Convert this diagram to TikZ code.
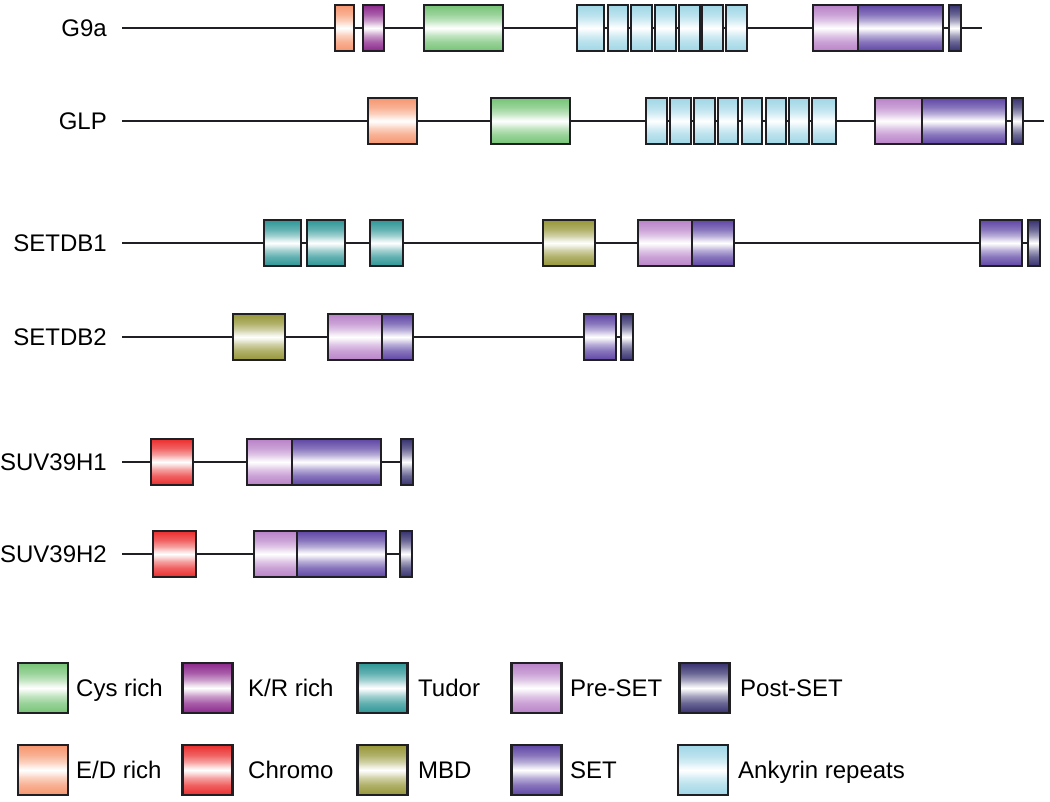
\documentclass[tikz,border=0pt]{standalone}
\usepackage{fontspec}
\setmainfont{Liberation Sans}
\definecolor{bord}{RGB}{32,32,36}
\definecolor{cCys}{RGB}{118,196,118}
\definecolor{cED}{RGB}{246,150,110}
\definecolor{cKR}{RGB}{140,40,140}
\definecolor{cTud}{RGB}{45,150,150}
\definecolor{cChr}{RGB}{235,45,45}
\definecolor{cMBD}{RGB}{150,150,55}
\definecolor{cPre}{RGB}{185,130,200}
\definecolor{cSET}{RGB}{95,70,165}
\definecolor{cPost}{RGB}{55,50,112}
\definecolor{cAnk}{RGB}{160,215,230}
\newcommand\mkshade[2]{\pgfdeclareverticalshading{#1}{100bp}{color(0bp)=(#2); color(25bp)=(#2); color(35bp)=(#2!75!white); color(42bp)=(#2!45!white); color(47bp)=(#2!15!white); color(50bp)=(white); color(53bp)=(#2!15!white); color(58bp)=(#2!45!white); color(65bp)=(#2!75!white); color(75bp)=(#2); color(100bp)=(#2)}}
\mkshade{shCys}{cCys}
\mkshade{shED}{cED}
\mkshade{shKR}{cKR}
\mkshade{shTud}{cTud}
\mkshade{shChr}{cChr}
\mkshade{shMBD}{cMBD}
\mkshade{shPre}{cPre}
\mkshade{shSET}{cSET}
\mkshade{shPost}{cPost}
\mkshade{shAnk}{cAnk}
\tikzset{
  dom/.style={draw=bord, line width=2.2pt, inner sep=0pt, outer sep=0pt, minimum height=46pt},
  dCys/.style={dom, shading=shCys, shade},
  dED/.style={dom, shading=shED, shade},
  dKR/.style={dom, shading=shKR, shade},
  dTud/.style={dom, shading=shTud, shade},
  dChr/.style={dom, shading=shChr, shade},
  dMBD/.style={dom, shading=shMBD, shade},
  dPre/.style={dom, shading=shPre, shade},
  dSET/.style={dom, shading=shSET, shade},
  dPost/.style={dom, shading=shPost, shade},
  dAnk/.style={dom, shading=shAnk, shade},
  bb/.style={draw=bord, line width=1.8pt},
  lbl/.style={anchor=east, inner sep=0pt, font=\fontsize{24}{28}\selectfont, text height=17pt, text depth=0pt},
  lgbox/.style={minimum width=50pt, minimum height=50pt},
  lgtxt/.style={anchor=west, inner sep=0pt, font=\fontsize{24}{28}\selectfont, text height=17pt, text depth=0pt}
}
\newcommand\dbox[5]{\node[#2, minimum width={#4-#3}] (#1) at ({(#3+#4)/2},#5) {};}
\begin{document}
\begin{tikzpicture}[x=1pt,y=-1pt]
\useasboundingbox (0,0) rectangle (1050,801);
% ---------- G9a
\node[lbl] (lg9) at (107,28) {G9a};
\coordinate (g9s) at (122,28);
\coordinate (g9e) at (982,28);
\dbox{g9ed}{dED}{335}{354}{28}
\dbox{g9kr}{dKR}{363}{384}{28}
\dbox{g9cys}{dCys}{424}{503}{28}
\dbox{g9a1}{dAnk}{577}{604}{28}
\dbox{g9a2}{dAnk}{608}{628}{28}
\dbox{g9a3}{dAnk}{631}{652}{28}
\dbox{g9a4}{dAnk}{655}{676}{28}
\dbox{g9a5}{dAnk}{679}{700}{28}
\dbox{g9a6}{dAnk}{702}{723}{28}
\dbox{g9a7}{dAnk}{726}{747}{28}
\dbox{g9pre}{dPre}{813}{858}{28}
\dbox{g9set}{dSET}{858}{943}{28}
\dbox{g9post}{dPost}{949}{961}{28}
\draw[bb] (g9s) -- (g9ed) -- (g9kr) -- (g9cys) -- (g9a1) -- (g9a2) -- (g9a3) -- (g9a4) -- (g9a5) -- (g9a6) -- (g9a7) -- (g9pre);
\draw[bb] (g9set) -- (g9post) -- (g9e);
% ---------- GLP
\node[lbl] (lglp) at (107,121) {GLP};
\coordinate (glps) at (122,121);
\coordinate (glpe) at (1044,121);
\dbox{glped}{dED}{368}{417}{121}
\dbox{glpcys}{dCys}{491}{570}{121}
\dbox{glpa1}{dAnk}{646}{667}{121}
\dbox{glpa2}{dAnk}{670}{691}{121}
\dbox{glpa3}{dAnk}{694}{715}{121}
\dbox{glpa4}{dAnk}{718}{738}{121}
\dbox{glpa5}{dAnk}{742}{762}{121}
\dbox{glpa6}{dAnk}{766}{786}{121}
\dbox{glpa7}{dAnk}{789}{809}{121}
\dbox{glpa8}{dAnk}{812}{836}{121}
\dbox{glppre}{dPre}{875}{922}{121}
\dbox{glpset}{dSET}{922}{1006}{121}
\dbox{glppost}{dPost}{1012}{1023}{121}
\draw[bb] (glps) -- (glped) -- (glpcys) -- (glpa1) -- (glpa2) -- (glpa3) -- (glpa4) -- (glpa5) -- (glpa6) -- (glpa7) -- (glpa8) -- (glppre);
\draw[bb] (glpset) -- (glppost) -- (glpe);
% ---------- SETDB1
\node[lbl] (ldb1) at (107,243) {SETDB1};
\coordinate (db1s) at (122,243);
\dbox{db1t1}{dTud}{264}{301}{243}
\dbox{db1t2}{dTud}{307}{345}{243}
\dbox{db1t3}{dTud}{370}{403}{243}
\dbox{db1mbd}{dMBD}{543}{595}{243}
\dbox{db1pre}{dPre}{638}{692}{243}
\dbox{db1set}{dSET}{692}{734}{243}
\dbox{db1set2}{dSET}{980}{1022}{243}
\dbox{db1post}{dPost}{1028}{1040}{243}
\draw[bb] (db1s) -- (db1t1) -- (db1t2) -- (db1t3) -- (db1mbd) -- (db1pre);
\draw[bb] (db1set) -- (db1set2) -- (db1post);
% ---------- SETDB2
\node[lbl] (ldb2) at (107,337) {SETDB2};
\coordinate (db2s) at (122,337);
\dbox{db2mbd}{dMBD}{233}{285}{337}
\dbox{db2pre}{dPre}{328}{382}{337}
\dbox{db2set}{dSET}{382}{413}{337}
\dbox{db2set2}{dSET}{584}{616}{337}
\dbox{db2post}{dPost}{621}{633}{337}
\draw[bb] (db2s) -- (db2mbd) -- (db2pre);
\draw[bb] (db2set) -- (db2set2) -- (db2post);
% ---------- SUV39H1
\node[lbl] (lsu1) at (107,462) {SUV39H1};
\coordinate (su1s) at (122,462);
\dbox{su1chr}{dChr}{151}{193}{462}
\dbox{su1pre}{dPre}{247}{292}{462}
\dbox{su1set}{dSET}{292}{381}{462}
\dbox{su1post}{dPost}{401}{413}{462}
\draw[bb] (su1s) -- (su1chr) -- (su1pre);
\draw[bb] (su1set) -- (su1post);
% ---------- SUV39H2
\node[lbl] (lsu2) at (107,554) {SUV39H2};
\coordinate (su2s) at (122,554);
\dbox{su2chr}{dChr}{153}{196}{554}
\dbox{su2pre}{dPre}{254}{297}{554}
\dbox{su2set}{dSET}{297}{386}{554}
\dbox{su2post}{dPost}{400}{412}{554}
\draw[bb] (su2s) -- (su2chr) -- (su2pre);
\draw[bb] (su2set) -- (su2post);
% ---------- Legend
\node[dCys, lgbox] (kcys) at (43,688) {};
\node[lgtxt] (tcys) at (76,688) {Cys rich};
\node[dKR, lgbox] (kkr) at (207.5,688) {};
\node[lgtxt] (tkr) at (248,688) {K/R rich};
\node[dTud, lgbox] (ktud) at (382.5,688) {};
\node[lgtxt] (ttud) at (418,688) {Tudor};
\node[dPre, lgbox] (kpre) at (536.5,688) {};
\node[lgtxt] (tpre) at (570,688) {Pre-SET};
\node[dPost, lgbox] (kpost) at (704.5,688) {};
\node[lgtxt] (tpost) at (740,688) {Post-SET};
\node[dED, lgbox] (ked) at (43,770) {};
\node[lgtxt] (ted) at (76,770) {E/D rich};
\node[dChr, lgbox] (kchr) at (207.5,770) {};
\node[lgtxt] (tchr) at (248,770) {Chromo};
\node[dMBD, lgbox] (kmbd) at (382.5,770) {};
\node[lgtxt] (tmbd) at (418,770) {MBD};
\node[dSET, lgbox] (kset) at (536.5,770) {};
\node[lgtxt] (tset) at (570,770) {SET};
\node[dAnk, lgbox] (kank) at (703,770) {};
\node[lgtxt] (tank) at (738,770) {Ankyrin repeats};
\end{tikzpicture}
\end{document}
